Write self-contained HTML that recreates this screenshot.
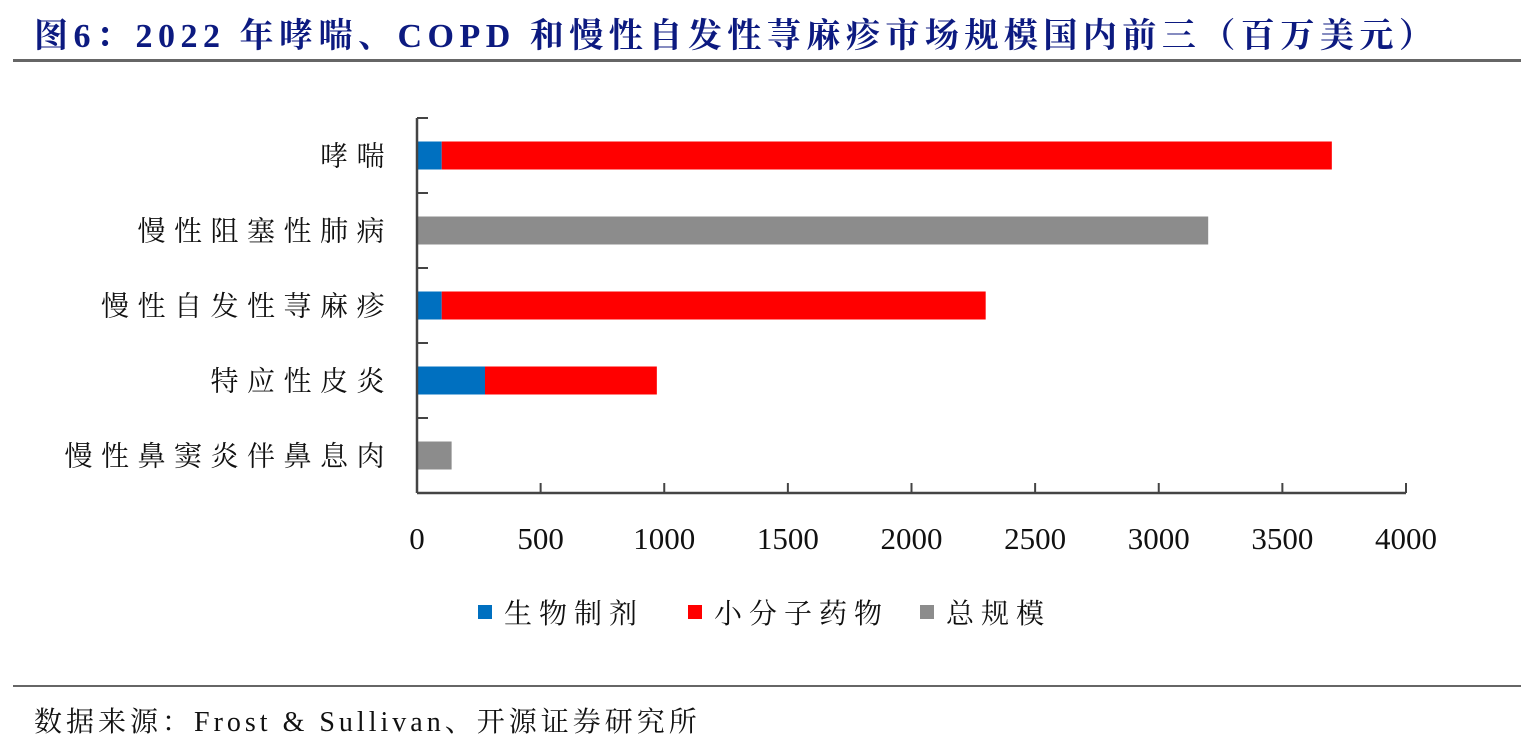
<!DOCTYPE html>
<html><head><meta charset="utf-8"><style>
body{margin:0;background:#fff;width:1533px;height:747px;overflow:hidden;position:relative;font-family:"Liberation Serif","Noto Serif CJK SC",serif}
.title{position:absolute;left:34px;top:8px;font-size:34px;font-weight:bold;color:#0c1a80;white-space:nowrap;letter-spacing:5.5px}
.hr{position:absolute;left:13px;width:1508px;height:3px;background:#666}
.src{position:absolute;left:34px;top:700px;font-size:28px;color:#111;white-space:nowrap;letter-spacing:4px}
</style></head><body>
<div class="title">图6：2022 年哮喘、COPD 和慢性自发性荨麻疹市场规模国内前三（百万美元）</div>
<div class="hr" style="top:59px"></div>
<svg id="chart" width="1533" height="680" style="position:absolute;left:0;top:0"></svg>
<div class="hr" style="top:685px;height:2px"></div>
<div class="src">数据来源：Frost &amp; Sullivan、开源证券研究所</div>
<script>
const categories=["哮喘","慢性阻塞性肺病","慢性自发性荨麻疹","特应性皮炎","慢性鼻窦炎伴鼻息肉"];
const biologics=[100,0,100,275,0];
const smallMolecule=[3600,0,2200,695,0];
const totalOnly=[0,3200,0,0,140];
const xTicks=[0,500,1000,1500,2000,2500,3000,3500,4000];
const seriesNames=["生物制剂","小分子药物","总规模"];
const colors=["#0070c0","#ff0000","#8c8c8c"];
const svg=document.getElementById('chart');const NS="http://www.w3.org/2000/svg";
const x0=417,x1=1406,yTop=118,yBot=493,xMax=4000;
const X=v=>x0+(x1-x0)*v/xMax;
const band=(yBot-yTop)/categories.length;
const Y=i=>yTop+band*(i+0.5);
function mk(t,a){const e=document.createElementNS(NS,t);for(const k in a)e.setAttribute(k,a[k]);svg.appendChild(e);return e;}
categories.forEach((c,i)=>{
 let acc=0;
 [biologics,smallMolecule,totalOnly].forEach((arr,s)=>{
  const v=arr[i];if(!v)return;
  const r=mk('rect',{x:X(acc),y:Y(i)-14,width:X(acc+v)-X(acc),height:28,fill:colors[s]});
  
  
  acc+=v;
 });
 const t=mk('text',{x:393,y:Y(i)+10,'text-anchor':'end','font-size':28,fill:'#111','letter-spacing':'8.5'});
 t.textContent=c;
 
 
});
for(let i=0;i<=categories.length;i++){
 const l=mk('line',{x1:x0,x2:x0+11,y1:yTop+band*i,y2:yTop+band*i,stroke:'#444','stroke-width':2});
 
 
}
const ya=mk('line',{x1:x0,x2:x0,y1:yTop,y2:yBot,stroke:'#444','stroke-width':2.5});


const xa=mk('line',{x1:x0,x2:x1,y1:yBot,y2:yBot,stroke:'#444','stroke-width':2.5});


xTicks.forEach(v=>{
 const l=mk('line',{x1:X(v),x2:X(v),y1:yBot,y2:yBot-10,stroke:'#444','stroke-width':2});
 
 
 const t=mk('text',{x:X(v),y:549,'text-anchor':'middle','font-size':31,fill:'#111'});
 t.textContent=v;
 
 
});
const legX=[478,688,920];
seriesNames.forEach((n,s)=>{
 const r=mk('rect',{x:legX[s],y:605,width:14,height:14,fill:colors[s]});
 
 
 const t=mk('text',{x:legX[s]+26,y:623,'font-size':28,fill:'#111','letter-spacing':'7'});
 t.textContent=n;
 
 
});
</script>
</body></html>
